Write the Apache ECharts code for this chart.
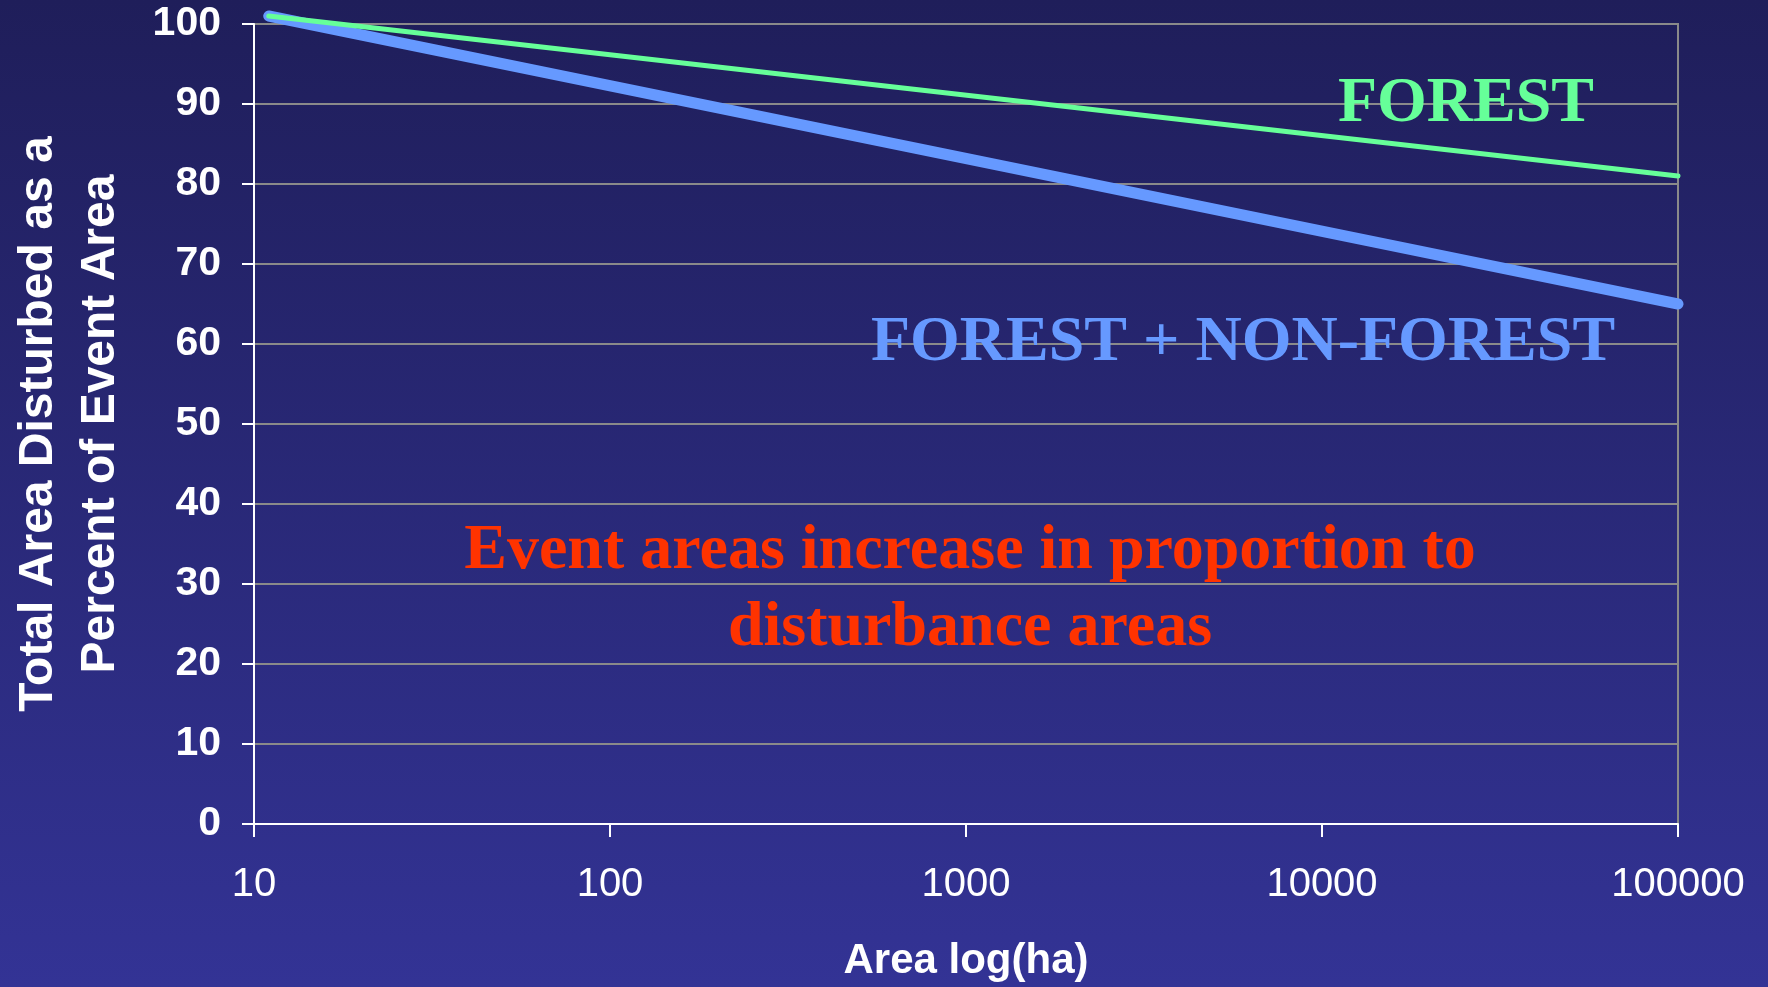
<!DOCTYPE html>
<html>
<head>
<meta charset="utf-8">
<script src="https://cdn.jsdelivr.net/npm/echarts@6/dist/echarts.min.js"></script>
<style>
  html, body { margin: 0; padding: 0; width: 1768px; height: 987px; overflow: hidden;
    background: linear-gradient(to bottom, #1f1e5a 0%, #333395 100%); }
  #chart { width: 1768px; height: 987px; }
</style>
</head>
<body>
<div id="chart"></div>
<script>
// ---- data ----
const areaHa = [11, 100000];                 // x values (ha, log scale)
const forestPct = [101, 81];                 // FOREST
const forestNonForestPct = [101, 65];        // FOREST + NON-FOREST
const xTickLabels = ['10', '100', '1000', '10000', '100000'];
const yTickValues = [0, 10, 20, 30, 40, 50, 60, 70, 80, 90, 100];
const xAxisTitle = 'Area log(ha)';
const yAxisTitle = 'Total Area Disturbed as a\nPercent of Event Area';
const labelForest = 'FOREST';
const labelForestNonForest = 'FOREST + NON-FOREST';
const noteText = 'Event areas increase in proportion to\ndisturbance areas';

const sans = "'Liberation Sans', Arial, sans-serif";
const serif = "'Liberation Serif', 'Times New Roman', serif";

const chart = echarts.init(document.getElementById('chart'), null, { renderer: 'canvas' });

const pairs = (xs, ys) => xs.map((x, i) => [x, ys[i]]);

chart.setOption({
  backgroundColor: 'transparent',
  animation: false,
  grid: {
    left: 251, right: 90, top: 24, bottom: 163,
    show: true, borderColor: '#8a8a8a', borderWidth: 2, backgroundColor: 'transparent'
  },
  xAxis: {
    type: 'log', logBase: 10, min: 10, max: 100000,
    name: xAxisTitle, nameLocation: 'middle', nameGap: 116,
    nameTextStyle: { color: '#ffffff', fontFamily: sans, fontWeight: 'bold', fontSize: 42 },
    axisLine: { show: true, lineStyle: { color: '#ffffff', width: 2 } },
    axisTick: { show: true, inside: false, length: 13, lineStyle: { color: '#ffffff', width: 2 } },
    minorTick: { show: false },
    splitLine: { show: false },
    axisLabel: {
      color: '#ffffff', fontFamily: sans, fontSize: 40, margin: 41,
      formatter: (v) => {
        const idx = Math.round(Math.log10(v)) - 1;
        return xTickLabels[idx] !== undefined ? xTickLabels[idx] : '';
      }
    }
  },
  yAxis: {
    type: 'value', min: 0, max: 100, interval: 10,
    name: yAxisTitle, nameLocation: 'middle', nameGap: 122, nameRotate: 90,
    nameTextStyle: { color: '#ffffff', fontFamily: sans, fontWeight: 'bold', fontSize: 48, lineHeight: 62, align: 'center' },
    axisLine: { show: true, lineStyle: { color: '#ffffff', width: 2 } },
    axisTick: { show: true, inside: false, length: 12, lineStyle: { color: '#ffffff', width: 2 } },
    splitLine: { show: true, lineStyle: { color: '#8a8a8a', width: 2 } },
    axisLabel: {
      color: '#ffffff', fontFamily: sans, fontWeight: 'bold', fontSize: 41, margin: 33,
      formatter: (v) => yTickValues.includes(v) ? String(v) : ''
    }
  },
  series: [
    {
      name: labelForestNonForest, type: 'line', data: pairs(areaHa, forestNonForestPct),
      symbol: 'none', clip: false, z: 3,
      lineStyle: { color: '#6699ff', width: 11, cap: 'round' }
    },
    {
      name: labelForest, type: 'line', data: pairs(areaHa, forestPct),
      symbol: 'none', clip: false, z: 4,
      lineStyle: { color: '#66ff99', width: 5, cap: 'round' }
    }
  ],
  graphic: [
    { type: 'text', x: 1466, y: 104, z: 10,
      style: { text: labelForest, fill: '#66ff99', font: 'bold 64px ' + serif, align: 'center', verticalAlign: 'middle' } },
    { type: 'text', x: 1243, y: 343, z: 10,
      style: { text: labelForestNonForest, fill: '#6699ff', font: 'bold 64px ' + serif, align: 'center', verticalAlign: 'middle' } },
    { type: 'text', x: 970, y: 590, z: 10,
      style: { text: noteText, fill: '#ff3300', font: 'bold 64px ' + serif, lineHeight: 77, align: 'center', verticalAlign: 'middle' } }
  ]
});
</script>
</body>
</html>
